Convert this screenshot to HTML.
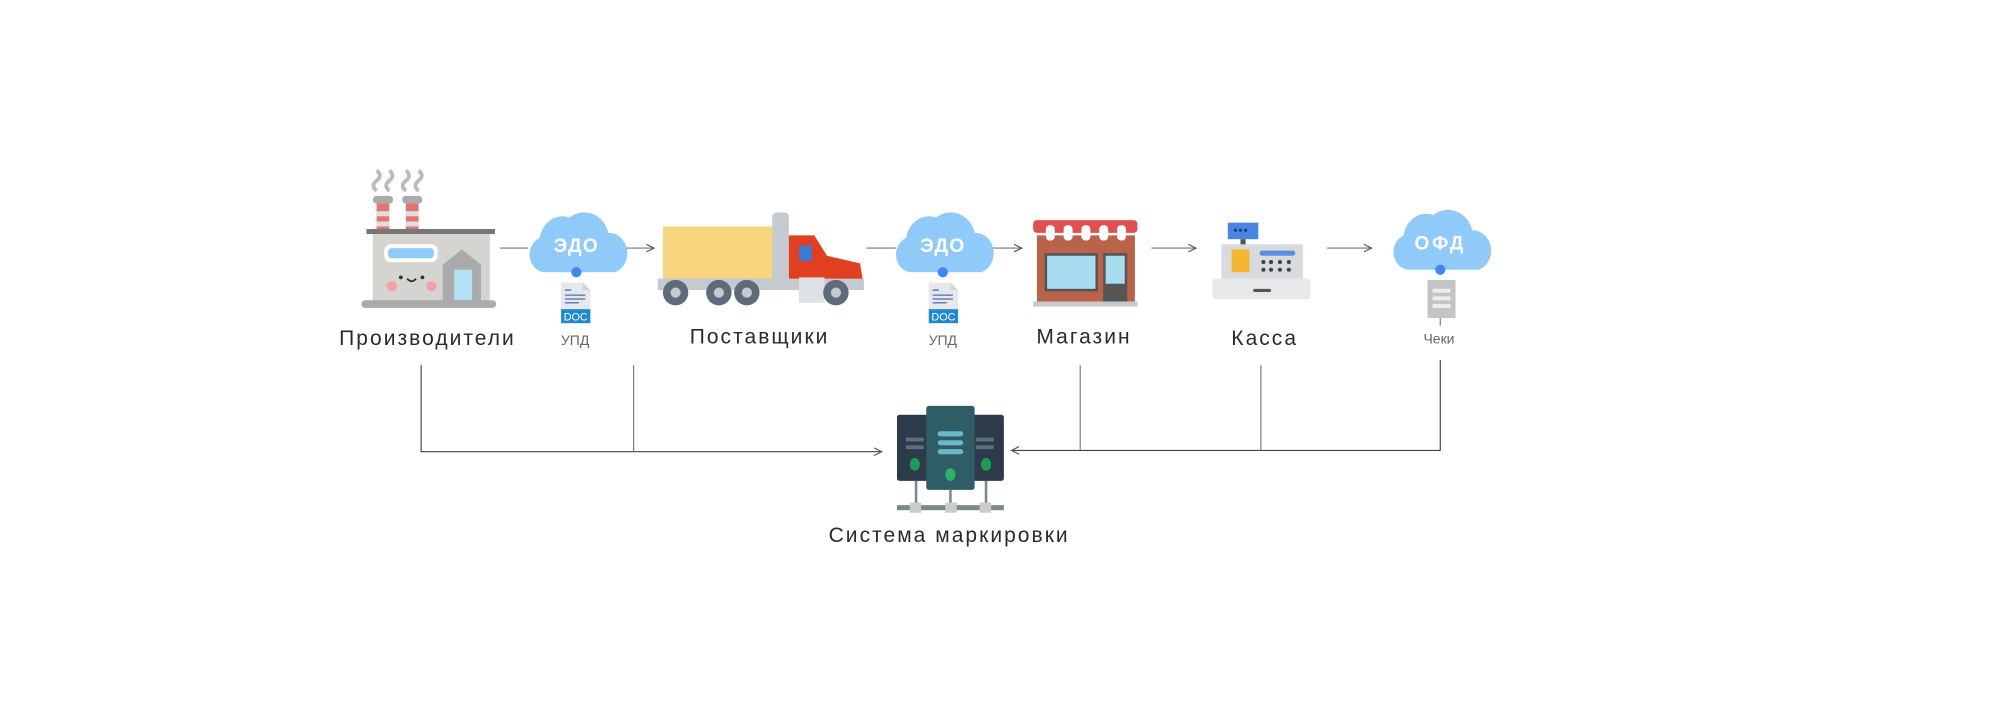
<!DOCTYPE html>
<html><head><meta charset="utf-8"><style>
html,body{margin:0;padding:0;background:#fff;}
svg{display:block}
text{font-family:"Liberation Sans","DejaVu Sans",sans-serif;}
</style></head><body>
<svg width="1995" height="713" viewBox="0 0 1568 560.4" xmlns="http://www.w3.org/2000/svg">
<defs>
<marker id="ar" markerWidth="8" markerHeight="8" refX="7" refY="4" orient="auto" markerUnits="userSpaceOnUse">
<path d="M1,1 L7,4 L1,7" fill="none" stroke="#555" stroke-width="0.9"/></marker>
<g id="cloud"><path d="M-28,26 a14,14 0 0 1 -4,-27 a20,20 0 0 1 26,-16 a22,22 0 0 1 34,12 a16,16 0 0 1 6,31 z" fill="#90caf9" transform="scale(0.9,1)"/></g>
<g id="doc"><path d="M0,0 h17 l6,6 v26 h-23 z" fill="#e8e8ec"/><path d="M17,0 v6 h6z" fill="#cfd2d8"/>
<g stroke="#4a6fb0" stroke-width="1"><line x1="3" y1="6" x2="8" y2="6"/><line x1="3" y1="10" x2="19" y2="10"/><line x1="3" y1="13" x2="19" y2="13"/><line x1="3" y1="16" x2="14" y2="16"/></g>
<rect x="0" y="21" width="23" height="11" fill="#1e88d0"/><text x="11.5" y="30" font-size="8.5" fill="#fff" text-anchor="middle" font-family="Liberation Mono,monospace">DOC</text></g>
</defs>

<g stroke="#777" stroke-width="0.9" fill="none">
<line x1="393" y1="195" x2="415" y2="195"/>
<line x1="491" y1="195" x2="514" y2="195" marker-end="url(#ar)"/>
<line x1="681" y1="195" x2="704" y2="195"/>
<line x1="778" y1="195" x2="803" y2="195" marker-end="url(#ar)"/>
<line x1="905" y1="195" x2="940" y2="195" marker-end="url(#ar)"/>
<line x1="1043" y1="195" x2="1078" y2="195" marker-end="url(#ar)"/>
<polyline points="331,287 331,355 693,355" marker-end="url(#ar)" stroke="#444"/>
<line x1="498" y1="287" x2="498" y2="355"/>
<polyline points="1132,283 1132,354 795,354" marker-end="url(#ar)" stroke="#444"/>
<line x1="849" y1="287" x2="849" y2="354"/>
<line x1="991" y1="287" x2="991" y2="354"/>
<line x1="1132" y1="250" x2="1132" y2="256"/>
</g>

<g>
<path d="M296,150 q-5,-4 0,-8 q5,-4 0,-8 M306,150 q-5,-4 0,-8 q5,-4 0,-8" stroke="#bbb" stroke-width="3" fill="none"/>
<path d="M319,150 q-5,-4 0,-8 q5,-4 0,-8 M329,150 q-5,-4 0,-8 q5,-4 0,-8" stroke="#bbb" stroke-width="3" fill="none"/>
<rect x="293" y="154" width="16" height="6" rx="3" fill="#aaa"/><rect x="316" y="154" width="16" height="6" rx="3" fill="#aaa"/>
<rect x="296" y="160" width="10" height="21" fill="#e57373"/><rect x="296" y="166" width="10" height="4" fill="#ddd"/><rect x="296" y="174" width="10" height="4" fill="#ddd"/>
<rect x="319" y="160" width="10" height="21" fill="#e57373"/><rect x="319" y="166" width="10" height="4" fill="#ddd"/><rect x="319" y="174" width="10" height="4" fill="#ddd"/>
<rect x="288" y="180" width="101" height="4" fill="#777"/>
<rect x="293" y="184" width="92" height="54" fill="#d6d4d0"/>
<rect x="302" y="192" width="42" height="14" rx="5" fill="#fff"/><rect x="305" y="195" width="36" height="8" rx="3" fill="#90caf9"/>
<path d="M348,238 v-30 l15,-12 l15,12 v30z" fill="#aaa"/><rect x="357" y="212" width="14" height="24" fill="#b3e0f5"/>
<circle cx="308" cy="225" r="4" fill="#f4a0a8"/><circle cx="339" cy="225" r="4" fill="#f4a0a8"/>
<circle cx="315" cy="218" r="1.5" fill="#333"/><circle cx="332" cy="218" r="1.5" fill="#333"/>
<path d="M320,219 q3.5,4 7,0" stroke="#333" stroke-width="1.5" fill="none"/>
<rect x="284" y="236" width="106" height="6" rx="3" fill="#aaa"/>
</g>

<use href="#cloud" x="453" y="188"/><text x="453" y="198" font-size="15" font-weight="bold" fill="#fff" text-anchor="middle" letter-spacing="1">ЭДО</text>
<circle cx="453" cy="214" r="4" fill="#3f86f5"/>
<use href="#doc" x="441" y="222"/>
<use href="#cloud" x="741" y="188"/><text x="741" y="198" font-size="15" font-weight="bold" fill="#fff" text-anchor="middle" letter-spacing="1">ЭДО</text>
<circle cx="741" cy="214" r="4" fill="#3f86f5"/>
<use href="#doc" x="730" y="222"/>
<use href="#cloud" x="1132" y="186"/><text x="1132" y="196" font-size="15" font-weight="bold" fill="#fff" text-anchor="middle" letter-spacing="2">ОФД</text>
<circle cx="1132" cy="212" r="4" fill="#3f86f5"/>
<rect x="1122" y="220" width="22" height="30" fill="#c4c4c4"/>
<rect x="1126" y="227" width="14" height="3" fill="#eee"/><rect x="1126" y="233" width="14" height="3" fill="#eee"/><rect x="1126" y="239" width="14" height="3" fill="#eee"/>

<g>
<rect x="521" y="178" width="91" height="44" fill="#f8d57e"/>
<rect x="607" y="167" width="13" height="58" rx="3" fill="#c5c9d0"/>
<path d="M620,185 h20 l10,16 l26,6 l3,18 h-59z" fill="#e0401f"/>
<rect x="628" y="193" width="10" height="12" fill="#3a7bd5"/>
<rect x="517" y="219" width="162" height="9" fill="#c5c9d0"/>
<rect x="628" y="218" width="20" height="20" fill="#dde0e4"/>
<g fill="#5f6b7a"><circle cx="531" cy="230" r="10"/><circle cx="565" cy="230" r="10"/><circle cx="587" cy="230" r="10"/><circle cx="657" cy="230" r="10"/></g>
<g fill="#c5c9d0"><circle cx="531" cy="230" r="4"/><circle cx="565" cy="230" r="4"/><circle cx="587" cy="230" r="4"/><circle cx="657" cy="230" r="4"/></g>
</g>

<g>
<rect x="815" y="185" width="77" height="52" fill="#b8634a"/>
<rect x="812" y="173" width="82" height="10" rx="3" fill="#e05050"/>
<g fill="#fff"><rect x="822" y="177" width="7" height="12" rx="3"/><rect x="836" y="177" width="7" height="12" rx="3"/><rect x="850" y="177" width="7" height="12" rx="3"/><rect x="864" y="177" width="7" height="12" rx="3"/><rect x="878" y="177" width="7" height="12" rx="3"/></g>
<rect x="821" y="199" width="42" height="30" fill="#555"/><rect x="823" y="201" width="38" height="26" fill="#a8dcf0"/>
<rect x="867" y="199" width="19" height="38" fill="#555"/><rect x="869" y="201" width="15" height="22" fill="#a8dcf0"/>
<rect x="812" y="237" width="82" height="4" fill="#c5c9d0"/>
</g>

<g>
<rect x="965" y="175" width="24" height="13" fill="#4a86e0"/><rect x="975" y="188" width="4" height="5" fill="#555"/>
<g fill="#1f3f80"><circle cx="971" cy="181" r="1.3"/><circle cx="975" cy="181" r="1.3"/><circle cx="979" cy="181" r="1.3"/></g>
<rect x="960" y="192" width="64" height="27" fill="#d8dadd"/>
<rect x="968" y="196" width="14" height="18" fill="#f3b733"/>
<rect x="990" y="197" width="28" height="4" rx="2" fill="#5a8fe0"/>
<g fill="#444"><circle cx="993" cy="206" r="1.6"/><circle cx="999" cy="206" r="1.6"/><circle cx="1006" cy="206" r="1.6"/><circle cx="1013" cy="206" r="1.6"/><circle cx="993" cy="212" r="1.6"/><circle cx="999" cy="212" r="1.6"/><circle cx="1006" cy="212" r="1.6"/><circle cx="1013" cy="212" r="1.6"/></g>
<rect x="953" y="219" width="77" height="16" rx="2" fill="#e6e8ea"/>
<rect x="985" y="227" width="14" height="2.5" rx="1" fill="#555"/>
</g>

<g>
<rect x="705" y="326" width="32" height="52" rx="2" fill="#2c3a4a"/>
<rect x="757" y="326" width="32" height="52" rx="2" fill="#2c3a4a"/>
<rect x="728" y="319" width="38" height="66" rx="2" fill="#2e5d66"/>
<g fill="#5b7080"><rect x="712" y="344" width="14" height="3"/><rect x="712" y="350" width="14" height="3"/><rect x="767" y="344" width="14" height="3"/><rect x="767" y="350" width="14" height="3"/></g>
<g fill="#6cb8c8"><rect x="737" y="339" width="20" height="4" rx="2"/><rect x="737" y="346" width="20" height="4" rx="2"/><rect x="737" y="353" width="20" height="4" rx="2"/></g>
<ellipse cx="719" cy="365" rx="4" ry="5" fill="#1d9a5a"/><ellipse cx="775" cy="365" rx="4" ry="5" fill="#1d9a5a"/><ellipse cx="747" cy="373" rx="4" ry="5" fill="#2ab36a"/>
<g fill="#7a8a88"><rect x="719" y="378" width="2" height="22"/><rect x="774" y="378" width="2" height="22"/><rect x="746" y="385" width="2" height="15"/><rect x="705" y="397" width="84" height="4"/></g>
<g fill="#c9ccc9"><rect x="715" y="395" width="9" height="8"/><rect x="743" y="395" width="9" height="8"/><rect x="770" y="395" width="9" height="8"/></g>
</g>

<g font-size="16.5" fill="#2a2a2a" text-anchor="middle" letter-spacing="1.6">
<text x="336" y="271">Производители</text>
<text x="597" y="270">Поставщики</text>
<text x="852" y="270">Магазин</text>
<text x="994" y="271">Касса</text>
<text x="746" y="426">Система маркировки</text>
</g>
<g font-size="11" fill="#666" text-anchor="middle">
<text x="452" y="271">УПД</text><text x="741" y="271">УПД</text><text x="1131" y="270">Чеки</text>
</g>
</svg>
</body></html>
